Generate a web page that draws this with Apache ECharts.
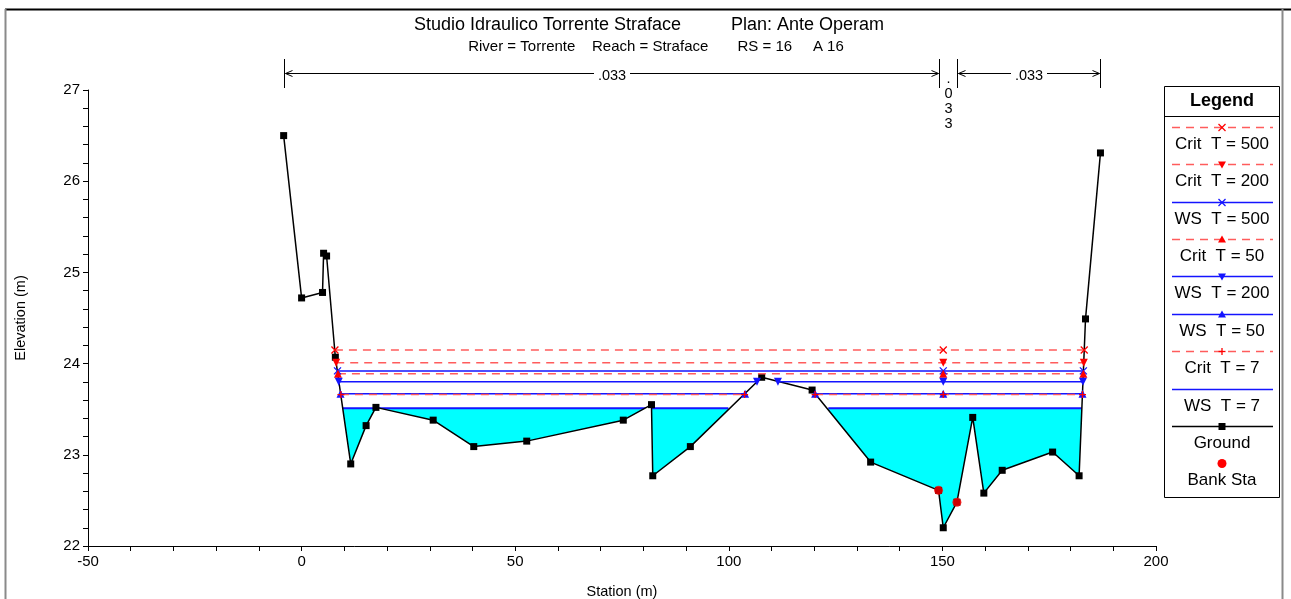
<!DOCTYPE html>
<html>
<head>
<meta charset="utf-8">
<title>Studio Idraulico Torrente Straface</title>
<script src="https://cdn.jsdelivr.net/npm/echarts@6/dist/echarts.min.js"></script>
<style>
html, body { margin: 0; padding: 0; background: #fff; }
#chart { width: 1291px; height: 599px; }
</style>
</head>
<body>
<div id="chart"></div>
<script>
// ground profile (station m, elevation m)
const groundSta = [-4.2, 0, 4.9, 5.15, 5.85, 7.9, 11.5, 15.1, 17.4, 30.8, 40.3, 52.7, 75.3, 81.9, 82.2, 91.0,
  107.7, 119.5, 133.2, 149.1, 150.2, 153.4, 157.1, 159.7, 164.0, 175.8, 182.0, 183.5, 187.0];
const groundElev = [26.5, 24.72, 24.78, 25.21, 25.18, 24.07, 22.9, 23.32, 23.52, 23.38, 23.09, 23.15, 23.38, 23.55, 22.77, 23.09,
  23.85, 23.71, 22.92, 22.61, 22.2, 22.48, 23.41, 22.58, 22.83, 23.03, 22.77, 24.49, 26.31];

// bank stations
const bankSta = [149.1, 153.4];
const bankElev = [22.61, 22.48];

// water surface / critical profiles
const profileNames = ['Crit  T = 500', 'Crit  T = 200', 'WS  T = 500', 'Crit  T = 50', 'WS  T = 200', 'WS  T = 50', 'Crit  T = 7', 'WS  T = 7'];
const profileElev = [24.15, 24.01, 23.92, 23.89, 23.80, 23.67, 23.66, 23.51];
// stations of the marked points on each profile, null = gap
const profileSta = [
  [7.8, 150.2, 183.2],
  [8.1, 150.2, 183.1],
  [8.4, 150.2, 183.0],
  [8.5, 150.2, 183.0],
  [8.7, 106.6, null, 111.5, 150.2, 182.9],
  [9.1, 103.8, null, 120.2, 150.2, 182.8],
  [9.2, 103.7, null, 120.2, 150.2, 182.8],
  [9.6, 99.9, null, 123.3, 182.6]
];

// manning's n zones across the top
const nBreaks = [-4.2, 149.1, 153.4, 187.0];
const nValues = ['.033', '.033', '.033'];

const FONT = '"Liberation Sans", Arial, sans-serif';
const RED = '#ff0000';
const RED_DASH = '#ff5c5c';
const BLUE = '#1414ff';
const symX = 'path://M0,0L8,8M8,0L0,8';
const symPlus = 'path://M4,0L4,8M0,4L8,4';

// look of each profile: [line colour, dashed, marker kind, marker colour]
const looks = [
  [RED_DASH, true, 'x', RED],
  [RED_DASH, true, 'down', RED],
  [BLUE, false, 'x', BLUE],
  [RED_DASH, true, 'up', RED],
  [BLUE, false, 'down', BLUE],
  [BLUE, false, 'up', BLUE],
  [RED_DASH, true, 'plus', RED],
  [BLUE, false, 'none', BLUE]
];

function symbolFor(kind) {
  if (kind === 'x') return symX;
  if (kind === 'plus') return symPlus;
  if (kind === 'up' || kind === 'down') return 'triangle';
  return 'none';
}

const series = [];

profileNames.forEach(function (name, i) {
  const look = looks[i];
  const last = i === profileNames.length - 1;
  const data = profileSta[i].map(function (s) {
    return s === null ? ['-', '-'] : [s, profileElev[i]];
  });
  const stroked = look[2] === 'x' || look[2] === 'plus';
  const s = {
    name: name,
    type: 'line',
    data: data,
    z: last ? 1 : 5,
    symbol: symbolFor(look[2]),
    symbolSize: stroked ? 7 : 8,
    symbolRotate: look[2] === 'down' ? 180 : 0,
    showSymbol: look[2] !== 'none',
    lineStyle: {color: look[0], width: last ? 2 : 1.5, type: look[1] ? [8, 6] : 'solid'},
    itemStyle: stroked ? {color: 'rgba(0,0,0,0)', borderColor: look[3], borderWidth: 1.3} : {color: look[3]},
    animation: false
  };
  if (last) {
    // WS T = 7 is filled down to the terrain
    s.areaStyle = {color: '#00ffff', opacity: 1, origin: 'start'};
  }
  series.push(s);
});

// ground, white below it hides the water fill under the terrain
series.push({
  name: 'Ground',
  type: 'line',
  z: 2,
  data: groundSta.map(function (s, i) { return [s, groundElev[i]]; }),
  symbol: 'rect',
  symbolSize: 7,
  lineStyle: {color: '#000', width: 1.5},
  itemStyle: {color: '#000'},
  areaStyle: {color: '#fff', opacity: 1, origin: 'start'},
  animation: false
});

series.push({
  name: 'Bank Sta',
  type: 'scatter',
  z: 6,
  data: bankSta.map(function (s, i) { return [s, bankElev[i]]; }),
  symbol: 'circle',
  symbolSize: 9,
  itemStyle: {color: RED},
  animation: false
});

// n values with dimension arrows above the plot
series.push({
  type: 'custom',
  z: 6,
  data: nValues.map(function (v, i) { return [nBreaks[i], nBreaks[i + 1], 27]; }),
  encode: {x: [0, 1], y: 2},
  renderItem: function (params, api) {
    const i = params.dataIndex;
    const x0 = Math.round(api.coord([api.value(0), 22])[0]) + 0.5;
    const x1 = Math.round(api.coord([api.value(1), 22])[0]) + 0.5;
    const top = params.coordSys.y;
    const ay = top - 16.5;
    const black = {stroke: '#000', lineWidth: 1, fill: null};
    const ch = [
      {type: 'line', shape: {x1: x0, y1: top - 31, x2: x0, y2: top - 2}, style: black},
      {type: 'line', shape: {x1: x1, y1: top - 31, x2: x1, y2: top - 2}, style: black}
    ];
    const cx = (x0 + x1) / 2;
    if (x1 - x0 > 60) {
      const hw = 18;
      ch.push({type: 'line', shape: {x1: x0 + 1, y1: ay, x2: cx - hw, y2: ay}, style: black});
      ch.push({type: 'line', shape: {x1: cx + hw, y1: ay, x2: x1 - 1, y2: ay}, style: black});
      ch.push({type: 'polyline', shape: {points: [[x0 + 8, ay - 3], [x0 + 1, ay], [x0 + 8, ay + 3]]}, style: black});
      ch.push({type: 'polyline', shape: {points: [[x1 - 8, ay - 3], [x1 - 1, ay], [x1 - 8, ay + 3]]}, style: black});
      ch.push({type: 'text', style: {text: nValues[i], x: cx, y: top - 14, align: 'center', verticalAlign: 'middle',
        font: '14.5px ' + FONT, fill: '#000'}});
    } else {
      ch.push({type: 'text', style: {text: nValues[i].split('').join('\n'), x: cx, y: top - 19, align: 'center',
        verticalAlign: 'top', lineHeight: 15, font: '14.5px ' + FONT, fill: '#000'}});
    }
    return {type: 'group', children: ch};
  },
  animation: false
});

// legend box, drawn by hand to match the original layout
const legendNames = profileNames.concat(['Ground', 'Bank Sta']);
const legendLooks = looks.concat([['#000', false, 'rect', '#000'], [null, false, 'circle', RED]]);

function markerShape(kind, cx, cy, color) {
  const st = {stroke: color, lineWidth: 1.3};
  if (kind === 'x') {
    return [
      {type: 'line', shape: {x1: cx - 3.5, y1: cy - 3.5, x2: cx + 3.5, y2: cy + 3.5}, style: st},
      {type: 'line', shape: {x1: cx + 3.5, y1: cy - 3.5, x2: cx - 3.5, y2: cy + 3.5}, style: st}
    ];
  }
  if (kind === 'plus') {
    return [
      {type: 'line', shape: {x1: cx, y1: cy - 3.5, x2: cx, y2: cy + 3.5}, style: st},
      {type: 'line', shape: {x1: cx - 3.5, y1: cy, x2: cx + 3.5, y2: cy}, style: st}
    ];
  }
  if (kind === 'up') {
    return [{type: 'polygon', shape: {points: [[cx, cy - 4], [cx + 4, cy + 3], [cx - 4, cy + 3]]}, style: {fill: color}}];
  }
  if (kind === 'down') {
    return [{type: 'polygon', shape: {points: [[cx, cy + 4], [cx + 4, cy - 3], [cx - 4, cy - 3]]}, style: {fill: color}}];
  }
  if (kind === 'rect') {
    return [{type: 'rect', shape: {x: cx - 3.5, y: cy - 3.5, width: 7, height: 7}, style: {fill: color}}];
  }
  if (kind === 'circle') {
    return [{type: 'circle', shape: {cx: cx, cy: cy, r: 4.5}, style: {fill: color}}];
  }
  return [];
}

const legendEls = [
  {type: 'rect', shape: {x: 1164.5, y: 86.5, width: 115, height: 411}, style: {fill: '#fff', stroke: '#000', lineWidth: 1}},
  {type: 'line', shape: {x1: 1164.5, y1: 116.5, x2: 1279.5, y2: 116.5}, style: {stroke: '#000', lineWidth: 1}},
  {type: 'text', style: {text: 'Legend', x: 1222, y: 101, align: 'center', verticalAlign: 'middle',
    font: 'bold 18px ' + FONT, fill: '#000'}}
];
legendNames.forEach(function (name, i) {
  const look = legendLooks[i];
  const ly = Math.round(126.7 + i * 37.4) + 0.5;
  if (look[0]) {
    legendEls.push({type: 'line', shape: {x1: 1172, y1: ly, x2: 1273, y2: ly},
      style: {stroke: look[0], lineWidth: 1.5, lineDash: look[1] ? [8, 6] : null}});
  }
  markerShape(look[2], 1222, ly, look[3]).forEach(function (e) { legendEls.push(e); });
  legendEls.push({type: 'text', style: {text: name, x: 1222, y: ly + 16.6, align: 'center', verticalAlign: 'middle',
    font: '17px ' + FONT, fill: '#000'}});
});

const frameEls = [
  {type: 'line', shape: {x1: 5, y1: 9.5, x2: 1291, y2: 9.5}, style: {stroke: '#000', lineWidth: 2}},
  {type: 'line', shape: {x1: 5.5, y1: 9, x2: 5.5, y2: 599}, style: {stroke: '#8a8a8a', lineWidth: 2}},
  {type: 'line', shape: {x1: 1282.5, y1: 9, x2: 1282.5, y2: 599}, style: {stroke: '#8a8a8a', lineWidth: 2}},
  {type: 'text', style: {text: 'Studio Idraulico Torrente Straface          Plan: Ante Operam', x: 649, y: 25,
    align: 'center', verticalAlign: 'middle', font: '18px ' + FONT, fill: '#000'}},
  {type: 'text', style: {text: 'River = Torrente    Reach = Straface       RS = 16     A 16', x: 656, y: 47,
    align: 'center', verticalAlign: 'middle', font: '15px ' + FONT, fill: '#000'}}
];

const chart = echarts.init(document.getElementById('chart'));
chart.setOption({
  animation: false,
  backgroundColor: '#fff',
  textStyle: {fontFamily: FONT},
  grid: {left: 88, top: 90, right: 135, bottom: 53, outerBoundsMode: 'none', containLabel: false},
  xAxis: {
    type: 'value', min: -50, max: 200, interval: 50, z: 10,
    name: 'Station (m)', nameLocation: 'middle', nameGap: 38,
    nameTextStyle: {color: '#000', fontSize: 14.5},
    axisLine: {onZero: false, lineStyle: {color: '#000', width: 1}},
    axisTick: {show: true, length: 5, lineStyle: {color: '#000'}},
    minorTick: {show: true, splitNumber: 5, length: 5, lineStyle: {color: '#000'}},
    axisLabel: {color: '#000', fontSize: 15, margin: 8},
    splitLine: {show: false}
  },
  yAxis: {
    type: 'value', min: 22, max: 27, interval: 1, z: 10,
    name: 'Elevation (m)', nameLocation: 'middle', nameGap: 60, nameRotate: 90,
    nameTextStyle: {color: '#000', fontSize: 14.5},
    axisLine: {show: true, onZero: false, lineStyle: {color: '#000', width: 1}},
    axisTick: {show: true, length: 5, lineStyle: {color: '#000'}},
    minorTick: {show: true, splitNumber: 5, length: 5, lineStyle: {color: '#000'}},
    axisLabel: {color: '#000', fontSize: 15, margin: 8},
    splitLine: {show: false}
  },
  graphic: frameEls.concat(legendEls),
  series: series
});
window.addEventListener('resize', function () {
  chart.resize();
});
</script>
</body>
</html>
